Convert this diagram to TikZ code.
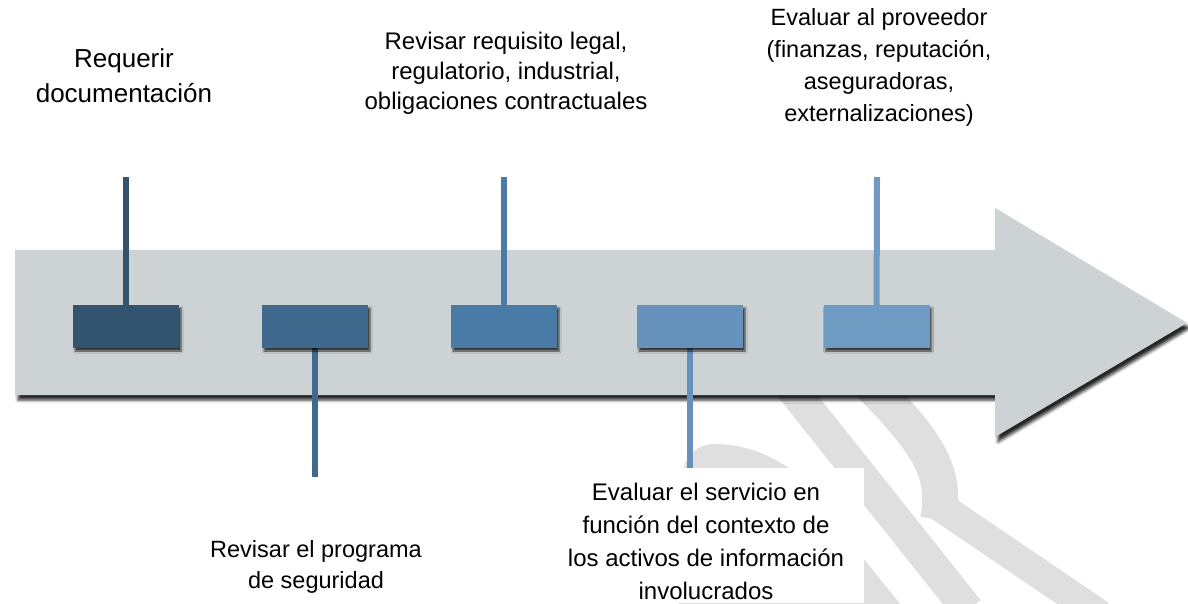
\documentclass[tikz,border=0pt]{standalone}
\usepackage{fontspec}
\setmainfont{Liberation Sans}
\usetikzlibrary{shadows.blur}
\definecolor{arrowgrey}{RGB}{205,211,212}
\definecolor{wmgrey}{RGB}{223,223,223}
\definecolor{cA}{HTML}{33546F}
\definecolor{cB}{HTML}{3F6A8D}
\definecolor{cC}{HTML}{4A7BA7}
\definecolor{cD}{HTML}{6591BA}
\definecolor{cE}{HTML}{6F9BC2}
\tikzset{
  wm/.style={wmgrey},
  stepbox/.style={rectangle, minimum width=106pt, minimum height=43pt, inner sep=0pt,
    blur shadow={shadow xshift=2pt, shadow yshift=-3pt, shadow blur radius=2pt, shadow opacity=75}},
  stem/.style={line width=6pt, line cap=butt},
  lbl/.style={align=center, inner sep=0pt, text=black},
}
\begin{document}
\begin{tikzpicture}[x=1pt,y=-1pt]
\useasboundingbox (0,0) rectangle (1188,603);
% watermark
\fill[wm] (679,610) -- (679,500) .. controls (679,465) and (690,444) .. (715,444)
  .. controls (745,444) and (770,455) .. (792,470) -- (905,610) -- cycle;
\draw[wm, line width=32pt] (785,380) -- (968,610);
\draw[wm, line width=36pt] (866,380) .. controls (925,440) and (948,470) .. (938,520);
\draw[wm, line width=30pt] (938,505) -- (1100,615);
% white panel behind lower text
\fill[white] (548,468) rectangle (864,603);
% arrow
\fill[arrowgrey, blur shadow={shadow xshift=3pt, shadow yshift=-5pt, shadow blur radius=3pt, shadow opacity=85}]
  (15,250) -- (995,250) -- (995,208) -- (1187,323) -- (995,437) -- (995,395) -- (15,395) -- cycle;
% stem end points
\coordinate (t1) at (126,177);
\coordinate (t2) at (315,477);
\coordinate (t3) at (504,177);
\coordinate (t4) at (690,468);
\coordinate (t5) at (877,177);
% box positions
\path (126,326.5) coordinate (p1) (315,326.5) coordinate (p2) (504,326.5) coordinate (p3)
      (690,326.5) coordinate (p4) (876.5,326.5) coordinate (p5);
% stems
\draw[stem, cA] (t1) -- (p1);
\draw[stem, cB] (p2) -- (t2);
\draw[stem, cC] (t3) -- (p3);
\draw[stem, cD] (p4) -- (t4);
\draw[stem, cE] (t5) -- (p5);
% boxes
\node[stepbox, fill=cA] (b1) at (p1) {};
\node[stepbox, fill=cB] (b2) at (p2) {};
\node[stepbox, fill=cC] (b3) at (p3) {};
\node[stepbox, fill=cD] (b4) at (p4) {};
\node[stepbox, fill=cE] (b5) at (p5) {};
% labels
\node[lbl, font=\fontsize{26}{35}\selectfont] (l1) at (124,76) {Requerir\\documentación};
\node[lbl, font=\fontsize{24}{30}\selectfont] (l3) at (506,73) {Revisar requisito legal,\\regulatorio, industrial,\\obligaciones contractuales};
\node[lbl, font=\fontsize{23.5}{32}\selectfont] (l5) at (879,67) {Evaluar al proveedor\\(finanzas, reputación,\\aseguradoras,\\externalizaciones)};
\node[lbl, font=\fontsize{23.5}{31}\selectfont] (l2) at (316,567) {Revisar el programa\\de seguridad};
\node[lbl, font=\fontsize{24}{33}\selectfont] (l4) at (706,541) {Evaluar el servicio en\\función del contexto de\\los activos de información\\involucrados};
\end{tikzpicture}
\end{document}
